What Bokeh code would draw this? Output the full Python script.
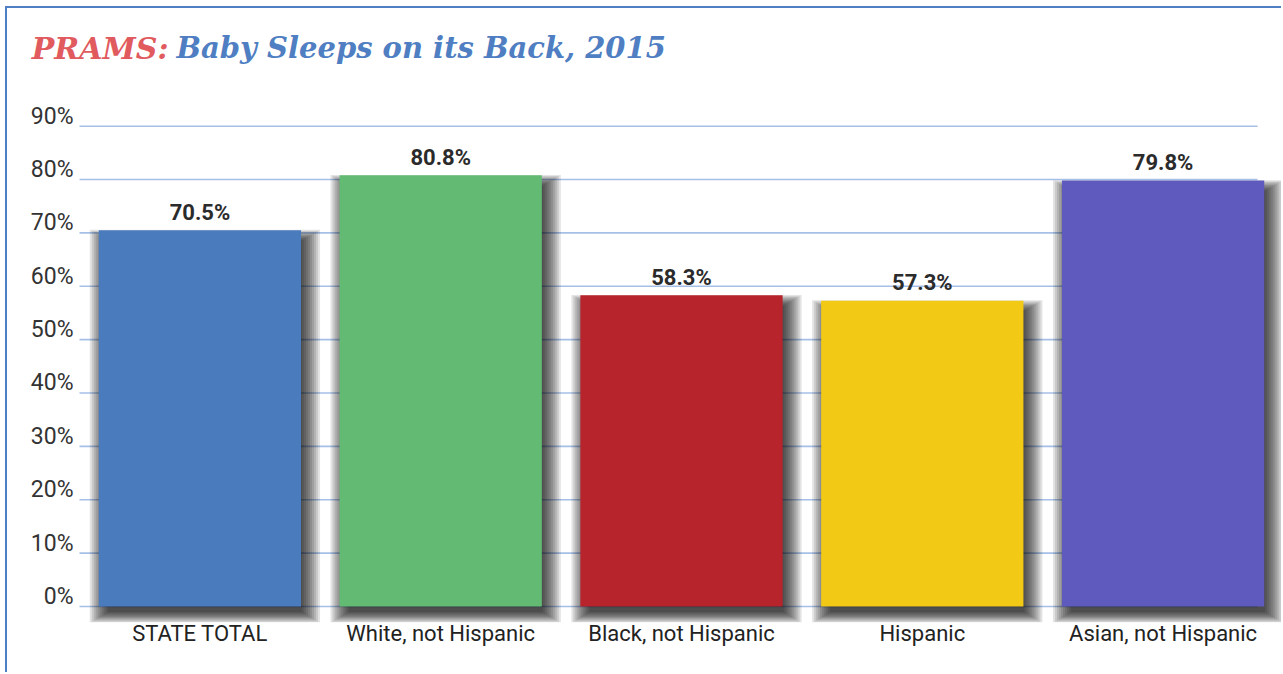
from bokeh.plotting import figure
from bokeh.models import (ColumnDataSource, Range1d, FixedTicker, Label)
from bokeh.core.properties import value
from bokeh.embed import file_html
from bokeh.resources import INLINE

# ---------------- data ----------------
categories = ["STATE TOTAL", "White, not Hispanic", "Black, not Hispanic",
              "Hispanic", "Asian, not Hispanic"]
percent = [70.5, 80.8, 58.3, 57.3, 79.8]
bar_colors = ["#4a7bbd", "#63bb73", "#b8242c", "#f2ca15", "#5f5abd"]
y_ticks = [0, 10, 20, 30, 40, 50, 60, 70, 80, 90]
title_part1 = "PRAMS:"
title_part2 = "Baby Sleeps on its Back, 2015"

# ---------------- layout constants (pixels) ----------------
W, H = 1276, 666
MB_B = 52
PLOT_LEFT = 72                       # canvas x where the category area starts
GRID_END = 1250                      # canvas x where gridlines stop
frame_h = H - MB_B
px_x = (W - PLOT_LEFT) / len(categories)   # pixels per category
px_y = 523 / 98                            # pixels per percent
Y0 = -3
Y1 = Y0 + frame_h / px_y
BASE_FIX = 0.35                      # svg alphabetic-baseline correction (em)

BAR_W = 0.84
xpos = [i + 0.5 for i in range(len(categories))]

p = figure(width=W, height=H,
           x_range=Range1d(-PLOT_LEFT / px_x, len(categories)),
           y_range=Range1d(Y0, Y1),
           y_axis_location=None,
           output_backend="svg", toolbar_location=None,
           min_border_left=0, min_border_right=0,
           min_border_top=0, min_border_bottom=MB_B)
p.title.visible = False
p.styles = {"border-left": "2px solid #4f80c4", "border-top": "2px solid #4f80c4",
            "margin-left": "5px", "margin-top": "6px"}
p.outline_line_color = None
p.background_fill_color = "white"
p.border_fill_color = "white"
p.xgrid.visible = False
p.ygrid.visible = False

# category axis
xa = p.xaxis[0]
xa.ticker = FixedTicker(ticks=xpos)
xa.major_label_overrides = {x: c for x, c in zip(xpos, categories)}
xa.axis_line_color = None
xa.major_tick_line_color = None
xa.minor_tick_line_color = None
xa.major_label_text_font = "Roboto"
xa.major_label_text_font_size = "22px"
xa.major_label_text_color = "#222222"
xa.major_label_standoff = -8

# horizontal gridlines
p.segment(x0=[0] * len(y_ticks), x1=[(GRID_END - PLOT_LEFT) / px_x] * len(y_ticks),
          y0=y_ticks, y1=y_ticks, line_color="#a6bfe6", line_width=1.6)

# y tick labels (slightly above their gridlines)
p.text(x=[-6 / px_x] * len(y_ticks),
       y=[t + (2 + BASE_FIX * 23) / px_y for t in y_ticks],
       text=[f"{t}%" for t in y_ticks],
       text_align="right", text_baseline="alphabetic",
       text_font=value("Roboto"), text_font_size="23px", text_color="#333333")

src = ColumnDataSource(dict(x=xpos, val=percent, color=bar_colors,
                            lab=[f"{v:.1f}%" for v in percent],
                            lab_y=[v + 18 / px_y for v in percent]))

# soft drop shadows (stacked translucent layers)
off_x, off_y = 5, 8
for g in [-4, -2, 0, 2, 4, 6, 8, 10, 12, 14]:
    gy = g * 0.6
    s = ColumnDataSource(dict(x=[x + off_x / px_x for x in xpos],
                              top=[v + (gy - off_y) / px_y for v in percent],
                              bottom=[-(off_y + gy) / px_y for _ in percent]))
    p.vbar(x="x", width=BAR_W + 2 * g / px_x, top="top", bottom="bottom",
           source=s, fill_color="black", fill_alpha=0.11, line_color=None)

p.vbar(x="x", top="val", bottom=0, width=BAR_W, source=src,
       fill_color="color", line_color=None)

p.text(x="x", y="lab_y", text="lab", source=src,
       text_align="center", text_baseline="alphabetic",
       text_font=value("Roboto"), text_font_style="bold",
       text_font_size="22px", text_color="#2b2b2b")

# two-colour title
title_y = Y1 - (50 - BASE_FIX * 29) / px_y
p.add_layout(Label(x=(161 - PLOT_LEFT) / px_x, y=title_y,
                   text=title_part1, text_align="right", text_baseline="alphabetic",
                   text_font="DejaVu Serif", text_font_style="bold italic",
                   text_font_size="30px", text_color="#e05a5e"))
p.add_layout(Label(x=(169 - PLOT_LEFT) / px_x, y=title_y,
                   text=title_part2, text_align="left", text_baseline="alphabetic",
                   text_font="DejaVu Serif", text_font_style="bold italic",
                   text_font_size="29px", text_color="#4f7ec2"))

open("out.html", "w").write(file_html(p, INLINE))
